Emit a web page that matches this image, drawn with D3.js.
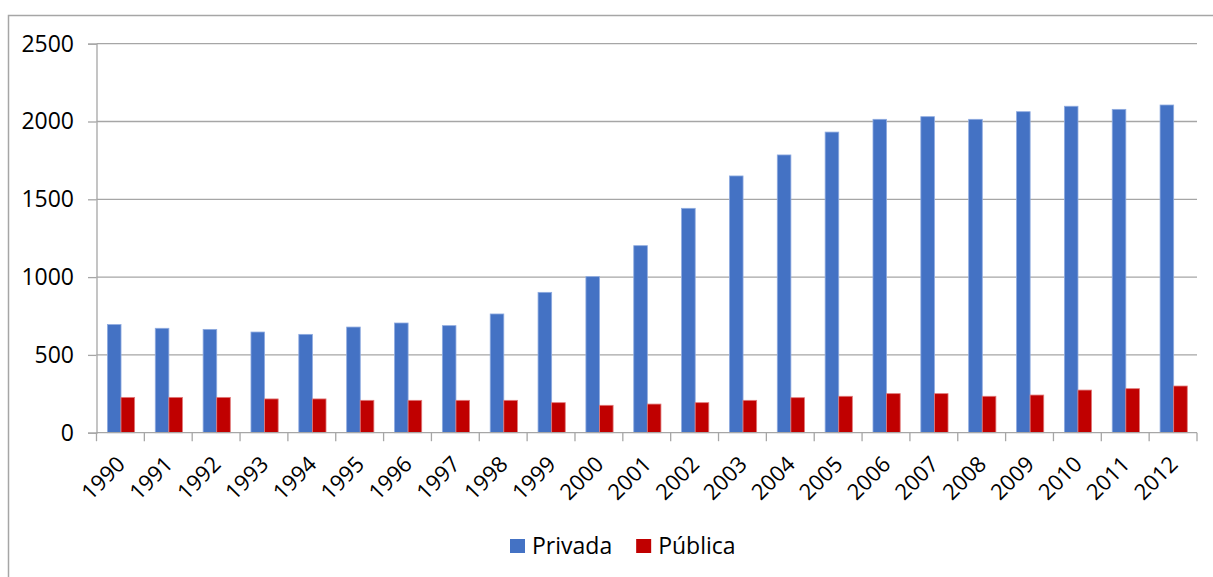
<!DOCTYPE html>
<html>
<head>
<meta charset="utf-8">
<script src="https://cdn.jsdelivr.net/npm/d3@7"></script>
<style>
  html, body { margin: 0; padding: 0; background: #fff; }
  svg { display: block; }
  text { font-family: "Open Sans", "Noto Sans", sans-serif; fill: #000; }
</style>
</head>
<body>
<svg id="chart" width="1213" height="577"></svg>
<script>
// Years on the category axis
const years = ["1990","1991","1992","1993","1994","1995","1996","1997","1998","1999","2000","2001",
               "2002","2003","2004","2005","2006","2007","2008","2009","2010","2011","2012"];

// Series values per year
const privada = [695, 671, 664, 647, 632, 679, 705, 688, 763, 902, 1003, 1202,
                 1442, 1650, 1785, 1932, 2014, 2031, 2014, 2063, 2098, 2078, 2106];
const publica = [227, 227, 227, 217, 217, 208, 208, 208, 208, 193, 176, 184,
                 193, 208, 225, 234, 251, 251, 234, 242, 274, 283, 300];

// Value axis ticks
const yTicks = [0, 500, 1000, 1500, 2000, 2500];

const seriesNames = ["Privada", "Pública"];
const seriesColors = ["#4472C4", "#C00000"];
const seriesStroke = ["#8fabe0", "#e07a7a"];

const svg = d3.select("#chart");

// outer frame of the chart area
svg.append("rect")
  .attr("x", 8.5).attr("y", 15.5)
  .attr("width", 1300).attr("height", 700)
  .attr("fill", "none").attr("stroke", "#a6a6a6").attr("stroke-width", 1.5);

const plot = { left: 96.5, right: 1197, top: 43.7, bottom: 432.7 };

const x = d3.scaleBand().domain(years).range([plot.left, plot.right]).paddingInner(0).paddingOuter(0);
const y = d3.scaleLinear().domain([0, 2500]).range([plot.bottom, plot.top]);

const barW = 13.6;

// horizontal gridlines
svg.append("g")
  .selectAll("line")
  .data(yTicks.filter(d => d > 0))
  .join("line")
  .attr("x1", plot.left).attr("x2", plot.right)
  .attr("y1", d => y(d)).attr("y2", d => y(d))
  .attr("stroke", "#a6a6a6").attr("stroke-width", 1.3);

// y axis
const yAxis = svg.append("g")
  .attr("transform", `translate(${plot.left},0)`)
  .call(d3.axisLeft(y).tickValues(yTicks).tickSize(8.5).tickPadding(14).tickFormat(d3.format("d")));
yAxis.select(".domain").attr("stroke", "#a6a6a6").attr("stroke-width", 1.3);
yAxis.selectAll(".tick line").attr("stroke", "#a6a6a6").attr("stroke-width", 1.3);
yAxis.selectAll(".tick text")
  .attr("font-size", 23).attr("font-family", "'Open Sans', sans-serif").attr("fill", "#000");

// bars
const groups = svg.append("g")
  .selectAll("g")
  .data(years)
  .join("g")
  .attr("transform", d => `translate(${x(d) + x.bandwidth() / 2},0)`);

groups.append("rect")
  .attr("x", -barW + 0.6)
  .attr("width", barW)
  .attr("y", (d, i) => y(privada[i]))
  .attr("height", (d, i) => y(0) - y(privada[i]))
  .attr("fill", seriesColors[0])
  .attr("stroke", seriesStroke[0]).attr("stroke-width", 0.8);

groups.append("rect")
  .attr("x", 0.6)
  .attr("width", barW)
  .attr("y", (d, i) => y(publica[i]))
  .attr("height", (d, i) => y(0) - y(publica[i]))
  .attr("fill", seriesColors[1])
  .attr("stroke", seriesStroke[1]).attr("stroke-width", 0.8);

// x axis with ticks on category boundaries
const xAxisG = svg.append("g").attr("transform", `translate(0,${plot.bottom})`);
xAxisG.append("line")
  .attr("x1", plot.left).attr("x2", plot.right)
  .attr("stroke", "#a6a6a6").attr("stroke-width", 1.3);
const boundaries = years.map(d => x(d)).concat([plot.right]);
xAxisG.selectAll("line.tk")
  .data(boundaries)
  .join("line").attr("class", "tk")
  .attr("x1", d => d).attr("x2", d => d)
  .attr("y1", 0).attr("y2", 8.5)
  .attr("stroke", "#a6a6a6").attr("stroke-width", 1.3);

// rotated year labels
xAxisG.selectAll("text.yr")
  .data(years)
  .join("text").attr("class", "yr")
  .attr("transform", d => `translate(${x(d) + x.bandwidth() / 2 + 6},33) rotate(-45)`)
  .attr("text-anchor", "end")
  .attr("font-size", 22)
  .text(d => d);

// legend
const legend = svg.append("g").attr("transform", "translate(510,546)");
let lx = 0;
seriesNames.forEach((name, i) => {
  const item = legend.append("g").attr("transform", `translate(${lx},0)`);
  item.append("rect")
    .attr("x", 0).attr("y", -7)
    .attr("width", 15).attr("height", 14)
    .attr("fill", seriesColors[i]);
  const t = item.append("text")
    .attr("x", 22).attr("dy", "0.36em")
    .attr("font-size", 23).attr("fill", "#1a1a1a")
    .text(name);
  lx += 22 + t.node().getComputedTextLength() + 24;
});
</script>
</body>
</html>
